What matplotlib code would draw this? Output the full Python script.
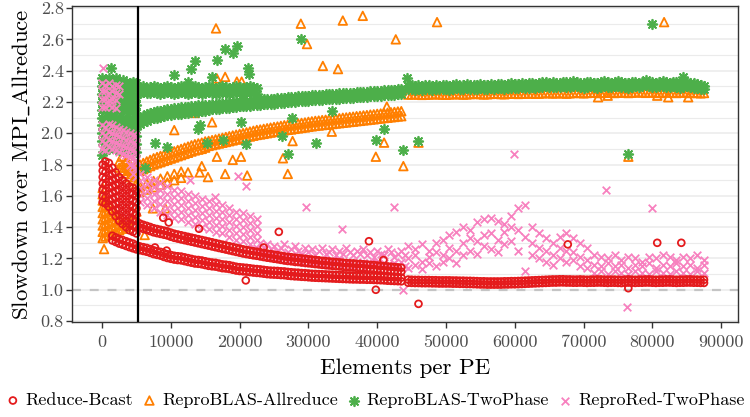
import matplotlib
matplotlib.use("Agg")
import matplotlib.pyplot as plt

plt.rcParams['font.family'] = ['cmr10', 'DejaVu Serif']
plt.rcParams['mathtext.fontset'] = 'cm'
plt.rcParams['axes.formatter.use_mathtext'] = True

# ---------------- data ----------------
series_names = ["Reduce-Bcast", "ReproBLAS-Allreduce", "ReproBLAS-TwoPhase", "ReproRed-TwoPhase"]
series_colors = ["#E41A1C", "#FF7F00", "#4DAF4A", "#F781BF"]

x_ticks = [0, 10000, 20000, 30000, 40000, 50000, 60000, 70000, 80000, 90000]
y_ticks = [0.8, 1.0, 1.2, 1.4, 1.6, 1.8, 2.0, 2.2, 2.4, 2.6, 2.8]
threshold_x = 5280
reference_y = 1.0

# x samples of the dense bands
x_mid = [5500, 6000, 6500, 7000, 7500, 8000, 8500, 9000, 9500, 10000,
         10500, 11000, 11500, 12000, 12500, 13000, 13500, 14000, 14500, 15000,
         15500, 16000, 16500, 17000, 17500, 18000, 18500, 19000, 19500, 20000,
         20500, 21000, 21500, 22000, 22500, 23000, 23500, 24000, 24500, 25000,
         25500, 26000, 26500, 27000, 27500, 28000, 28500, 29000, 29500, 30000,
         30500, 31000, 31500, 32000, 32500, 33000, 33500, 34000, 34500, 35000,
         35500, 36000, 36500, 37000, 37500, 38000, 38500, 39000, 39500, 40000,
         40500, 41000, 41500, 42000, 42500, 43000, 43500]
x_right = [44500, 45000, 45500, 46000, 46500, 47000, 47500, 48000, 48500, 49000,
           49500, 50000, 50500, 51000, 51500, 52000, 52500, 53000, 53500, 54000,
           54500, 55000, 55500, 56000, 56500, 57000, 57500, 58000, 58500, 59000,
           59500, 60000, 60500, 61000, 61500, 62000, 62500, 63000, 63500, 64000,
           64500, 65000, 65500, 66000, 66500, 67000, 67500, 68000, 68500, 69000,
           69500, 70000, 70500, 71000, 71500, 72000, 72500, 73000, 73500, 74000,
           74500, 75000, 75500, 76000, 76500, 77000, 77500, 78000, 78500, 79000,
           79500, 80000, 80500, 81000, 81500, 82000, 82500, 83000, 83500, 84000,
           84500, 85000, 85500, 86000, 86500, 87000, 87500]
x_right_coarse = [44500, 45500, 46500, 47500, 48500, 49500, 50500, 51500, 52500, 53500, 54500,
                  55500, 56500, 57500, 58500, 59500, 60500, 61500, 62500, 63500, 64500, 65500,
                  66500, 67500, 68500, 69500, 70500, 71500, 72500, 73500, 74500, 75500, 76500,
                  77500, 78500, 79500, 80500, 81500, 82500, 83500, 84500, 85500, 86500, 87500]
x_upper = [5500, 6000, 6500, 7000, 7500, 8000, 8500, 9000, 9500, 10000, 10500, 11000, 11500,
           12000, 12500, 13000, 13500, 14000, 14500, 15000, 15500, 16000, 16500, 17000, 17500,
           18000, 18500, 19000, 19500, 20000, 20500, 21000, 21500, 22000, 22500]
x_pink_band = [5500, 6500, 7500, 8500, 9500, 10500, 11500, 12500, 13500, 14500, 15500, 16500,
               17500, 18500, 19500, 20500, 21500, 22500]
x_short = [5500, 6500, 7500, 8500, 9500, 10500, 11500]
x_small = [0, 500, 1000, 1500, 2000, 2500, 3000, 3500, 4000, 4500, 5000]

# ---- Reduce-Bcast ----
red_pre_x = [1500, 2000, 2500, 3000, 3500, 4000, 4500, 5000]
red_pre_top = [1.345, 1.335, 1.325, 1.318, 1.31, 1.302, 1.295, 1.285]
red_pre_bot = [1.315, 1.305, 1.295, 1.288, 1.28, 1.272, 1.265, 1.258]
red_low_top = [1.277, 1.272, 1.267, 1.26, 1.252, 1.247, 1.242, 1.234, 1.227, 1.222,
               1.217, 1.214, 1.212, 1.207, 1.202, 1.197, 1.192, 1.19, 1.187, 1.182,
               1.177, 1.174, 1.172, 1.167, 1.162, 1.16, 1.157, 1.152, 1.147, 1.144,
               1.142, 1.14, 1.137, 1.134, 1.132, 1.13, 1.127, 1.124, 1.122, 1.121,
               1.12, 1.118, 1.117, 1.114, 1.112, 1.11, 1.109, 1.107, 1.106, 1.104,
               1.102, 1.101, 1.1, 1.099, 1.098, 1.097, 1.096, 1.095, 1.094, 1.093,
               1.092, 1.091, 1.09, 1.09, 1.089, 1.089, 1.088, 1.088, 1.087, 1.086,
               1.085, 1.084, 1.082, 1.081, 1.08, 1.079, 1.078]
red_low_bot = [1.253, 1.248, 1.243, 1.236, 1.228, 1.223, 1.218, 1.21, 1.203, 1.198,
               1.193, 1.19, 1.188, 1.183, 1.178, 1.173, 1.168, 1.166, 1.163, 1.158,
               1.153, 1.15, 1.148, 1.143, 1.138, 1.136, 1.133, 1.128, 1.123, 1.12,
               1.118, 1.116, 1.113, 1.11, 1.108, 1.106, 1.103, 1.1, 1.098, 1.097,
               1.096, 1.094, 1.093, 1.09, 1.088, 1.086, 1.085, 1.083, 1.082, 1.08,
               1.078, 1.077, 1.076, 1.075, 1.074, 1.073, 1.072, 1.071, 1.07, 1.069,
               1.068, 1.067, 1.066, 1.066, 1.065, 1.065, 1.064, 1.064, 1.063, 1.062,
               1.061, 1.06, 1.058, 1.057, 1.056, 1.055, 1.054]
red_up_top = [1.423, 1.415, 1.408, 1.401, 1.393, 1.388, 1.383, 1.378, 1.373, 1.365,
              1.358, 1.353, 1.348, 1.343, 1.338, 1.333, 1.328, 1.323, 1.318, 1.313,
              1.308, 1.303, 1.298, 1.293, 1.288, 1.283, 1.278, 1.273, 1.268, 1.263,
              1.258, 1.254, 1.25, 1.246, 1.243, 1.239, 1.235, 1.231, 1.228, 1.224,
              1.221, 1.217, 1.213, 1.21, 1.208, 1.205, 1.203, 1.2, 1.198, 1.195,
              1.193, 1.19, 1.188, 1.185, 1.183, 1.181, 1.179, 1.177, 1.175, 1.173,
              1.171, 1.169, 1.168, 1.166, 1.165, 1.163, 1.161, 1.159, 1.158, 1.155,
              1.153, 1.151, 1.149, 1.147, 1.145, 1.143, 1.141]
red_up_bot = [1.397, 1.389, 1.382, 1.375, 1.367, 1.362, 1.357, 1.352, 1.347, 1.339,
              1.332, 1.327, 1.322, 1.317, 1.312, 1.307, 1.302, 1.297, 1.292, 1.287,
              1.282, 1.277, 1.272, 1.267, 1.262, 1.257, 1.252, 1.247, 1.242, 1.237,
              1.232, 1.228, 1.224, 1.22, 1.217, 1.213, 1.209, 1.205, 1.202, 1.198,
              1.195, 1.191, 1.187, 1.184, 1.182, 1.179, 1.177, 1.174, 1.172, 1.169,
              1.167, 1.164, 1.162, 1.159, 1.157, 1.155, 1.153, 1.151, 1.149, 1.147,
              1.145, 1.143, 1.142, 1.14, 1.139, 1.137, 1.135, 1.133, 1.132, 1.129,
              1.127, 1.125, 1.123, 1.121, 1.119, 1.117, 1.115]
red_right_top = [1.065, 1.064, 1.063, 1.063, 1.062, 1.062, 1.062, 1.061, 1.061, 1.06,
                 1.06, 1.06, 1.06, 1.059, 1.059, 1.058, 1.058, 1.057, 1.057, 1.056,
                 1.055, 1.054, 1.054, 1.053, 1.053, 1.053, 1.053, 1.053, 1.054, 1.054,
                 1.055, 1.055, 1.056, 1.057, 1.058, 1.059, 1.06, 1.061, 1.062, 1.063,
                 1.064, 1.065, 1.066, 1.066, 1.067, 1.067, 1.066, 1.066, 1.065, 1.065,
                 1.066, 1.065, 1.064, 1.065, 1.065, 1.066, 1.066, 1.065, 1.064, 1.065,
                 1.065, 1.064, 1.063, 1.065, 1.066, 1.065, 1.064, 1.065, 1.065, 1.066,
                 1.066, 1.065, 1.064, 1.065, 1.065, 1.066, 1.066, 1.065, 1.064, 1.065,
                 1.065, 1.066, 1.066, 1.065, 1.065, 1.064, 1.064]
red_right_bot = [1.045, 1.044, 1.043, 1.043, 1.042, 1.042, 1.042, 1.041, 1.041, 1.04,
                 1.04, 1.04, 1.04, 1.039, 1.039, 1.038, 1.038, 1.037, 1.037, 1.036,
                 1.035, 1.034, 1.034, 1.033, 1.033, 1.033, 1.033, 1.033, 1.034, 1.034,
                 1.035, 1.035, 1.036, 1.037, 1.038, 1.039, 1.04, 1.041, 1.042, 1.043,
                 1.044, 1.045, 1.046, 1.046, 1.047, 1.047, 1.046, 1.046, 1.045, 1.045,
                 1.046, 1.045, 1.044, 1.045, 1.045, 1.046, 1.046, 1.045, 1.044, 1.045,
                 1.045, 1.044, 1.043, 1.045, 1.046, 1.045, 1.044, 1.045, 1.045, 1.046,
                 1.046, 1.045, 1.044, 1.045, 1.045, 1.046, 1.046, 1.045, 1.044, 1.045,
                 1.045, 1.046, 1.046, 1.045, 1.045, 1.044, 1.044]
red_blob_x = [100] * 7 + [500] * 8 + [1000] * 8 + [1500] * 8 + [2000] * 8 + [2500] * 8 \
    + [3000] * 8 + [3500] * 8 + [4000] * 8 + [4500] * 8 + [5000] * 8
red_blob_y = [1.56, 1.60, 1.64, 1.68, 1.72, 1.76, 1.80,
              1.55, 1.59, 1.63, 1.67, 1.71, 1.75, 1.79, 1.82,
              1.53, 1.57, 1.61, 1.65, 1.69, 1.73, 1.77, 1.81,
              1.50, 1.54, 1.58, 1.62, 1.66, 1.70, 1.74, 1.78,
              1.47, 1.51, 1.55, 1.59, 1.63, 1.67, 1.71, 1.75,
              1.44, 1.48, 1.52, 1.56, 1.60, 1.64, 1.68, 1.72,
              1.42, 1.46, 1.50, 1.54, 1.58, 1.62, 1.66, 1.70,
              1.40, 1.44, 1.48, 1.52, 1.56, 1.60, 1.64, 1.68,
              1.38, 1.42, 1.46, 1.50, 1.54, 1.58, 1.62, 1.66,
              1.37, 1.41, 1.45, 1.49, 1.53, 1.57, 1.61, 1.65,
              1.36, 1.40, 1.44, 1.48, 1.52, 1.56, 1.60, 1.63]
red_out_x = [9700, 8900, 14100, 25700, 23500, 38800, 20900, 39800, 9400, 7700, 40900, 46000,
             67700, 80700, 84200, 76500, 12500]
red_out_y = [1.43, 1.46, 1.39, 1.37, 1.27, 1.31, 1.06, 1.00, 1.25, 1.27, 1.19, 0.91,
             1.29, 1.30, 1.30, 1.01, 1.33]

# ---- ReproBLAS-Allreduce ----
or_main_top = [1.80, 1.81, 1.82, 1.83, 1.84, 1.848, 1.855, 1.863, 1.87, 1.878,
               1.885, 1.893, 1.90, 1.908, 1.915, 1.923, 1.93, 1.935, 1.94, 1.948,
               1.951, 1.956, 1.961, 1.966, 1.971, 1.976, 1.981, 1.986, 1.991, 1.996,
               2.001, 2.006, 2.011, 2.016, 2.021, 2.024, 2.028, 2.032, 2.036, 2.04,
               2.043, 2.047, 2.051, 2.054, 2.056, 2.06, 2.063, 2.066, 2.069, 2.073,
               2.076, 2.079, 2.081, 2.084, 2.086, 2.089, 2.091, 2.094, 2.096, 2.099,
               2.101, 2.104, 2.106, 2.109, 2.111, 2.114, 2.116, 2.119, 2.121, 2.124,
               2.126, 2.129, 2.131, 2.134, 2.136, 2.139, 2.141]
or_main_bot = [1.76, 1.77, 1.78, 1.79, 1.80, 1.808, 1.815, 1.823, 1.83, 1.838,
               1.845, 1.853, 1.86, 1.868, 1.875, 1.883, 1.89, 1.895, 1.90, 1.908,
               1.919, 1.924, 1.929, 1.934, 1.939, 1.944, 1.949, 1.954, 1.959, 1.964,
               1.969, 1.974, 1.979, 1.984, 1.989, 1.992, 1.996, 2.0, 2.004, 2.008,
               2.011, 2.015, 2.019, 2.022, 2.024, 2.028, 2.031, 2.034, 2.037, 2.041,
               2.044, 2.047, 2.049, 2.052, 2.054, 2.057, 2.059, 2.062, 2.064, 2.067,
               2.069, 2.072, 2.074, 2.077, 2.079, 2.082, 2.084, 2.087, 2.089, 2.092,
               2.094, 2.097, 2.099, 2.102, 2.104, 2.107, 2.109]
or_short_top = [1.665, 1.68, 1.695, 1.71, 1.725, 1.74, 1.755]
or_short_bot = [1.625, 1.64, 1.655, 1.67, 1.685, 1.70, 1.715]
or_right = [2.247, 2.248, 2.249, 2.247, 2.245, 2.246, 2.247, 2.249, 2.25, 2.248,
            2.247, 2.246, 2.248, 2.249, 2.251, 2.249, 2.247, 2.248, 2.25, 2.252,
            2.251, 2.25, 2.248, 2.249, 2.251, 2.253, 2.252, 2.25, 2.249, 2.252,
            2.254, 2.253, 2.251, 2.252, 2.253, 2.255, 2.254, 2.252, 2.253, 2.255,
            2.257, 2.256, 2.254, 2.255, 2.257, 2.255, 2.253, 2.255, 2.257, 2.259,
            2.257, 2.255, 2.257, 2.259, 2.26, 2.258, 2.257, 2.259, 2.261, 2.259,
            2.257, 2.259, 2.262, 2.26, 2.257, 2.259, 2.261, 2.263, 2.26, 2.258,
            2.26, 2.262, 2.26, 2.257, 2.259, 2.262, 2.261, 2.259, 2.257, 2.26,
            2.262, 2.26, 2.257, 2.259, 2.257, 2.255, 2.257]
or_blob_x = [100] * 9 + [500] * 7 + [1000] * 6 + [1500] * 5 + [2000] * 4 + [2500] * 5 \
    + [3000] * 4 + [3500] * 5 + [4000] * 4 + [4500] * 5 + [5000] * 5
or_blob_y = [1.33, 1.37, 1.41, 1.45, 1.49, 1.53, 1.57, 1.61, 1.65,
             1.34, 1.38, 1.42, 1.46, 1.50, 1.54, 1.58,
             1.35, 1.39, 1.43, 1.47, 1.51, 1.55,
             1.36, 1.40, 1.44, 1.48, 1.52,
             1.37, 1.41, 1.45, 1.49,
             1.38, 1.42, 1.46, 1.78, 1.82,
             1.39, 1.43, 1.76, 1.80,
             1.40, 1.44, 1.74, 1.78, 1.82,
             1.42, 1.72, 1.76, 1.80,
             1.45, 1.70, 1.74, 1.78, 1.82,
             1.50, 1.68, 1.72, 1.76, 1.80]
or_out_x = [16570, 28900, 29800, 35000, 37900, 32100, 34300, 16700, 17900, 19600, 20300, 13500, 10500,
            16000, 2900, 16700, 19000, 20200, 12500, 14200, 14500, 15400, 17900, 21100, 27000, 26300,
            27700, 33400, 39800, 41000, 41400, 48700, 42700, 81700, 76500, 43800, 46000, 300, 6200,
            7400, 9200, 72100, 73500, 80700, 85200, 82300]
or_out_y = [2.67, 2.70, 2.57, 2.72, 2.75, 2.43, 2.41, 2.35, 2.36, 2.33, 2.33, 2.13, 2.02,
            2.07, 1.85, 1.85, 1.83, 1.85, 1.75, 1.75, 1.79, 1.72, 1.74, 1.73, 1.74, 1.84,
            1.95, 2.01, 1.85, 1.94, 2.17, 2.71, 2.60, 2.71, 1.85, 1.79, 1.94, 1.26, 1.35,
            1.52, 1.52, 2.23, 2.24, 2.24, 2.23, 2.23]

# ---- ReproBLAS-TwoPhase ----
gr_main_top = [2.10, 2.11, 2.12, 2.128, 2.135, 2.14, 2.145, 2.15, 2.155, 2.158,
               2.16, 2.163, 2.165, 2.168, 2.17, 2.173, 2.175, 2.178, 2.18, 2.183,
               2.181, 2.184, 2.186, 2.189, 2.191, 2.194, 2.196, 2.199, 2.201, 2.204,
               2.206, 2.208, 2.209, 2.211, 2.212, 2.214, 2.216, 2.218, 2.22, 2.222,
               2.224, 2.226, 2.228, 2.23, 2.232, 2.234, 2.236, 2.238, 2.239, 2.241,
               2.242, 2.244, 2.245, 2.247, 2.248, 2.25, 2.251, 2.253, 2.254, 2.256,
               2.257, 2.259, 2.26, 2.262, 2.263, 2.265, 2.266, 2.268, 2.269, 2.271,
               2.272, 2.274, 2.275, 2.277, 2.278, 2.28, 2.281]
gr_main_bot = [2.06, 2.07, 2.08, 2.088, 2.095, 2.10, 2.105, 2.11, 2.115, 2.118,
               2.12, 2.123, 2.125, 2.128, 2.13, 2.133, 2.135, 2.138, 2.14, 2.143,
               2.149, 2.152, 2.154, 2.157, 2.159, 2.162, 2.164, 2.167, 2.169, 2.172,
               2.174, 2.176, 2.177, 2.179, 2.18, 2.182, 2.184, 2.186, 2.188, 2.19,
               2.192, 2.194, 2.196, 2.198, 2.20, 2.202, 2.204, 2.206, 2.207, 2.209,
               2.21, 2.212, 2.213, 2.215, 2.216, 2.218, 2.219, 2.221, 2.222, 2.224,
               2.225, 2.227, 2.228, 2.23, 2.231, 2.233, 2.234, 2.236, 2.237, 2.239,
               2.24, 2.242, 2.243, 2.245, 2.246, 2.248, 2.249]
gr_right_top = [2.305, 2.31, 2.30, 2.307, 2.303, 2.31, 2.306, 2.30, 2.308, 2.304,
                2.31, 2.306, 2.302, 2.308, 2.312, 2.305, 2.309, 2.313, 2.306, 2.31,
                2.308, 2.312, 2.306, 2.31, 2.314, 2.309, 2.312, 2.316, 2.31, 2.313,
                2.318, 2.312, 2.316, 2.32, 2.314, 2.318, 2.322, 2.317, 2.32, 2.325,
                2.33, 2.322, 2.326, 2.32, 2.324, 2.33, 2.325, 2.32, 2.335, 2.328,
                2.322, 2.318, 2.325, 2.33, 2.322, 2.318, 2.326, 2.332, 2.325, 2.32,
                2.328, 2.335, 2.326, 2.32, 2.318, 2.325, 2.33, 2.322, 2.328, 2.34,
                2.33, 2.325, 2.32, 2.328, 2.335, 2.326, 2.32, 2.33, 2.325, 2.318,
                2.325, 2.33, 2.322, 2.318, 2.315, 2.31, 2.305]
gr_right_bot = [2.28, 2.284, 2.278, 2.282, 2.279, 2.285, 2.281, 2.277, 2.283, 2.28,
                2.285, 2.281, 2.278, 2.283, 2.287, 2.28, 2.284, 2.288, 2.282, 2.285,
                2.283, 2.287, 2.281, 2.285, 2.289, 2.284, 2.287, 2.29, 2.285, 2.288,
                2.292, 2.287, 2.29, 2.294, 2.289, 2.292, 2.296, 2.291, 2.294, 2.298,
                2.3, 2.295, 2.298, 2.293, 2.297, 2.301, 2.297, 2.293, 2.303, 2.299,
                2.295, 2.291, 2.297, 2.301, 2.295, 2.291, 2.298, 2.302, 2.297, 2.293,
                2.299, 2.304, 2.298, 2.293, 2.291, 2.297, 2.301, 2.295, 2.299, 2.306,
                2.301, 2.297, 2.293, 2.299, 2.304, 2.298, 2.293, 2.301, 2.297, 2.291,
                2.297, 2.301, 2.295, 2.291, 2.289, 2.285, 2.28]
gr_up_top = [2.295, 2.30, 2.29, 2.298, 2.302, 2.295, 2.29, 2.298, 2.30, 2.294, 2.29, 2.297,
             2.302, 2.295, 2.29, 2.298, 2.30, 2.294, 2.29, 2.297, 2.302, 2.295, 2.29, 2.298,
             2.30, 2.294, 2.29, 2.297, 2.30, 2.295, 2.29, 2.298, 2.30, 2.294, 2.29]
gr_up_bot = [2.258, 2.262, 2.255, 2.26, 2.265, 2.257, 2.253, 2.26, 2.263, 2.256, 2.252, 2.259,
             2.264, 2.257, 2.253, 2.26, 2.263, 2.256, 2.252, 2.259, 2.264, 2.257, 2.253, 2.26,
             2.263, 2.256, 2.252, 2.259, 2.262, 2.257, 2.253, 2.26, 2.262, 2.256, 2.252]
gr_blob_1 = [2.35, 2.34, 2.35, 2.34, 2.35, 2.33, 2.34, 2.33, 2.32, 2.33, 2.32]
gr_blob_2 = [2.30, 2.29, 2.30, 2.31, 2.30, 2.29, 2.30, 2.29, 2.30, 2.29, 2.28]
gr_blob_3 = [2.25, 2.24, 2.25, 2.26, 2.25, 2.24, 2.25, 2.24, 2.25, 2.24, 2.23]
gr_blob_4 = [2.20, 2.19, 2.20, 2.21, 2.20, 2.19, 2.20, 2.19, 2.20, 2.19, 2.18]
gr_blob_5 = [2.15, 2.14, 2.15, 2.16, 2.15, 2.14, 2.15, 2.14, 2.15, 2.14, 2.13]
gr_blob_6 = [2.10, 2.09, 2.10, 2.11, 2.10, 2.09, 2.10, 2.09, 2.10, 2.09, 2.08]
gr_blob_7 = [2.05, 2.04, 2.05, 2.06, 2.05, 2.04, 2.05, 2.04, 2.05, 2.04, 2.03]
gr_blob_8 = [2.00, 1.99, 2.00, 2.01, 2.00, 1.99, 2.00, 1.99, 2.00, 1.99, 1.98]
gr_blob_9 = [1.95, 1.94, 1.95, 1.96, 1.95, 1.94, 1.95, 1.94, 1.95, 1.94, 1.93]
gr_blob_10 = [1.86, 1.89, 1.90, 1.91, 1.90, 1.89, 1.90, 1.89, 1.90, 1.89, 1.88]
gr_out_x = [28900, 17900, 19600, 19000, 16700, 13500, 12900, 10500, 12500, 16000, 21200, 21400, 1300,
            27600, 33400, 41000, 39800, 31100, 27000, 26200, 20900, 17600, 14200, 14000, 20200, 15300,
            9400, 7700, 6200, 80000, 76500, 43800, 46000, 44300, 84500]
gr_out_y = [2.60, 2.54, 2.56, 2.51, 2.47, 2.46, 2.41, 2.37, 2.33, 2.36, 2.42, 2.38, 2.42,
            2.10, 2.14, 2.03, 1.96, 1.94, 1.87, 1.98, 1.93, 1.96, 2.05, 2.03, 2.07, 1.94,
            1.91, 1.94, 1.78, 2.70, 1.87, 1.89, 1.95, 2.35, 2.36]

# ---- ReproRed-TwoPhase ----
pk_band_1 = [1.74, 1.72, 1.70, 1.68, 1.66, 1.64, 1.63, 1.61, 1.60, 1.58, 1.57, 1.55, 1.54, 1.52, 1.50,
             1.49, 1.47, 1.45]
pk_band_2 = [1.695, 1.675, 1.655, 1.635, 1.615, 1.595, 1.585, 1.565, 1.555, 1.535, 1.525, 1.505, 1.495,
             1.475, 1.455, 1.445, 1.425, 1.405]
pk_band_3 = [1.65, 1.63, 1.61, 1.59, 1.57, 1.55, 1.54, 1.52, 1.51, 1.49, 1.48, 1.46, 1.45, 1.43, 1.41,
             1.40, 1.38, 1.36]
pk_band_4 = [1.605, 1.585, 1.565, 1.545, 1.525, 1.505, 1.495, 1.475, 1.465, 1.445, 1.435, 1.415, 1.405,
             1.385, 1.365, 1.355, 1.335, 1.315]
pk_band_5 = [1.56, 1.54, 1.52, 1.50, 1.48, 1.46, 1.45, 1.43, 1.42, 1.40, 1.39, 1.37, 1.36, 1.34, 1.32,
             1.31, 1.29, 1.27]
pk_mid_x = [23000, 23500, 24000, 24500, 25000, 25500, 26000, 26500, 27000, 27500, 28000, 28500, 29000,
            29500, 30000, 30500, 31000, 31500, 32000, 32500, 33000, 33500, 34000, 34500, 35000, 35500,
            36000, 36500, 37000, 37500, 38000, 38500, 39000, 39500, 40000, 40500, 41000, 41500, 42000,
            42500, 43000, 43500, 44000]
pk_mid_a = [1.30, 1.27, 1.29, 1.26, 1.28, 1.25, 1.27, 1.29, 1.24, 1.26, 1.28, 1.25, 1.23, 1.27, 1.24,
            1.26, 1.22, 1.25, 1.27, 1.23, 1.24, 1.26, 1.22, 1.25, 1.23, 1.27, 1.24, 1.22, 1.25, 1.23,
            1.26, 1.22, 1.24, 1.21, 1.25, 1.23, 1.22, 1.26, 1.24, 1.21, 1.23, 1.25, 1.22]
pk_mid_b = [1.24, 1.22, 1.23, 1.21, 1.22, 1.20, 1.22, 1.21, 1.19, 1.21, 1.20, 1.18, 1.20, 1.19, 1.17,
            1.19, 1.18, 1.17, 1.19, 1.18, 1.16, 1.18, 1.17, 1.19, 1.16, 1.18, 1.17, 1.15, 1.18, 1.16,
            1.17, 1.15, 1.17, 1.16, 1.18, 1.15, 1.17, 1.16, 1.15, 1.17, 1.16, 1.18, 1.15]
pk_right_a = [1.28, 1.26, 1.29, 1.25, 1.30, 1.32, 1.35, 1.37, 1.40, 1.38, 1.43, 1.45, 1.46, 1.44, 1.42,
              1.47, 1.52, 1.54, 1.40, 1.36, 1.33, 1.30, 1.34, 1.36, 1.33, 1.30, 1.27, 1.22, 1.21, 1.20,
              1.22, 1.19, 1.21, 1.20, 1.18, 1.21, 1.20, 1.22, 1.21, 1.19, 1.21, 1.20, 1.22, 1.19]
pk_right_b = [1.20, 1.22, 1.18, 1.21, 1.24, 1.22, 1.27, 1.25, 1.30, 1.33, 1.31, 1.35, 1.36, 1.32, 1.37,
              1.40, 1.38, 1.34, 1.30, 1.27, 1.25, 1.22, 1.27, 1.25, 1.24, 1.21, 1.19, 1.16, 1.15, 1.17,
              1.15, 1.16, 1.14, 1.16, 1.15, 1.17, 1.14, 1.16, 1.15, 1.17, 1.15, 1.16, 1.14, 1.16]
pk_right_c = [1.14, 1.16, 1.13, 1.17, 1.15, 1.18, 1.20, 1.17, 1.22, 1.25, 1.23, 1.28, 1.26, 1.24, 1.29,
              1.31, 1.25, 1.12, 1.22, 1.20, 1.18, 1.16, 1.20, 1.18, 1.19, 1.15, 1.14, 1.11, 1.12, 1.10,
              1.12, 1.11, 1.10, 1.12, 1.11, 1.10, 1.12, 1.11, 1.10, 1.12, 1.11, 1.10, 1.12, 1.11]
pk_blob_x = [0, 500, 1000, 1500, 2000, 2500, 0, 500, 1000, 1500, 2000, 2500, 0, 500, 1000, 1500, 2000,
             0, 500, 1000, 1500, 2000,
             0, 500, 1000, 1500, 2000, 2500, 3000, 3500, 4000, 4500, 5000,
             0, 500, 1000, 1500, 2000, 2500, 3000, 3500, 4000, 4500, 5000,
             0, 500, 1000, 1500, 2000, 2500, 3000, 3500, 4000, 4500, 5000,
             0, 500, 1000, 1500, 2000, 2500, 3000, 3500, 4000, 4500, 5000,
             4000, 4500, 5000, 4500, 5000]
pk_blob_y = [2.32, 2.31, 2.32, 2.30, 2.31, 2.30, 2.27, 2.27, 2.26, 2.27, 2.26, 2.25, 2.22, 2.22, 2.21,
             2.22, 2.21, 2.17, 2.17, 2.18, 2.17, 2.16,
             2.05, 2.04, 2.06, 2.05, 2.04, 2.03, 2.02, 2.01, 2.0, 1.99, 1.98,
             2.00, 1.99, 2.01, 2.00, 1.99, 1.98, 1.97, 1.96, 1.95, 1.94, 1.93,
             1.95, 1.94, 1.96, 1.95, 1.94, 1.93, 1.92, 1.91, 1.90, 1.89, 1.88,
             1.90, 1.89, 1.91, 1.90, 1.89, 1.88, 1.87, 1.86, 1.85, 1.84, 1.83,
             1.80, 1.79, 1.78, 1.74, 1.72]
pk_out_x = [12800, 19800, 20900, 16400, 29700, 34900, 42400, 59900, 73300, 80000, 76300, 43750, 100]
pk_out_y = [1.70, 1.73, 1.66, 1.59, 1.53, 1.39, 1.53, 1.87, 1.64, 1.52, 0.89, 1.00, 2.42]

# ---------------- drawing ----------------
fig = plt.figure(figsize=(7.5, 4.17), dpi=100)
ax = fig.add_axes([0.096, 0.2278, 0.888, 0.7578])

col_red, col_or, col_gr, col_pk = series_colors
lw = 1.3
kw_red = dict(marker='o', s=24, facecolors='none', edgecolors=col_red, linewidths=lw)
kw_or = dict(marker='^', s=38, facecolors='none', edgecolors=col_or, linewidths=lw)
kw_gr = dict(marker=(8, 2, 0), s=46, color=col_gr, linewidths=lw)
kw_pk = dict(marker='x', s=30, color=col_pk, linewidths=lw)


def sc(xs, ys, kw):
    return ax.scatter(xs, ys, zorder=3, **kw)


# orange
sc(or_blob_x, or_blob_y, kw_or)
for row in (or_main_top, or_main_bot):
    sc(x_mid, row, kw_or)
for row in (or_short_top, or_short_bot):
    sc(x_short, row, kw_or)
sc(x_right, or_right, kw_or)
h_or = sc(or_out_x, or_out_y, kw_or)

# green
for row in (gr_blob_1, gr_blob_2, gr_blob_3, gr_blob_4, gr_blob_5, gr_blob_6, gr_blob_7,
            gr_blob_8, gr_blob_9, gr_blob_10):
    sc(x_small, row, kw_gr)
for row in (gr_up_top, gr_up_bot):
    sc(x_upper, row, kw_gr)
for row in (gr_main_top, gr_main_bot):
    sc(x_mid, row, kw_gr)
for row in (gr_right_top, gr_right_bot):
    sc(x_right, row, kw_gr)
h_gr = sc(gr_out_x, gr_out_y, kw_gr)

# pink
sc(pk_blob_x, pk_blob_y, kw_pk)
for row in (pk_band_1, pk_band_2, pk_band_3, pk_band_4, pk_band_5):
    sc(x_pink_band, row, kw_pk)
for row in (pk_mid_a, pk_mid_b):
    sc(pk_mid_x, row, kw_pk)
for row in (pk_right_a, pk_right_b, pk_right_c):
    sc(x_right_coarse, row, kw_pk)
h_pk = sc(pk_out_x, pk_out_y, kw_pk)

# red
sc(red_blob_x, red_blob_y, kw_red)
for row in (red_pre_top, red_pre_bot):
    sc(red_pre_x, row, kw_red)
for row in (red_low_top, red_low_bot, red_up_top, red_up_bot):
    sc(x_mid, row, kw_red)
for row in (red_right_top, red_right_bot):
    sc(x_right, row, kw_red)
h_red = sc(red_out_x, red_out_y, kw_red)

ax.axhline(reference_y, color='#C4C4C4', lw=1.6, ls=(0, (4, 4)), zorder=2)
ax.axvline(threshold_x, color='black', lw=1.6, zorder=4)

ax.set_xlim(-4360, 92440)
ax.set_ylim(0.794, 2.813)
ax.set_xticks(x_ticks)
ax.set_xticklabels([str(v) for v in x_ticks])
ax.set_yticks(y_ticks)
ax.set_yticklabels(['%.1f' % v for v in y_ticks])
ax.set_yticks([0.9, 1.1, 1.3, 1.5, 1.7, 1.9, 2.1, 2.3, 2.5, 2.7], minor=True)
ax.yaxis.grid(True, which='major', color='#EBEBEB', lw=1.1, zorder=0)
ax.yaxis.grid(True, which='minor', color='#EBEBEB', lw=0.8, zorder=0)
ax.set_axisbelow(True)
for sp in ax.spines.values():
    sp.set_color('#333333')
    sp.set_linewidth(1.0)
ax.tick_params(axis='both', which='major', length=4, width=1.0, color='#333333',
               labelcolor='#4D4D4D', labelsize=13)
ax.tick_params(axis='x', which='major', pad=5)
ax.tick_params(axis='y', which='major', pad=2)
ax.tick_params(axis='y', which='minor', length=0)

ax.set_xlabel('Elements per PE', fontsize=16.5, labelpad=6)
ax.set_ylabel(r'Slowdown over MPI$\_$Allreduce', fontsize=16.5, labelpad=6)

fig.legend([h_red, h_or, h_gr, h_pk], series_names, loc='lower center',
           bbox_to_anchor=(0.5, -0.005), ncol=4, frameon=False, fontsize=13,
           handletextpad=0.3, columnspacing=0.5, handlelength=0.8, borderaxespad=0.2)

fig.savefig('out.png', dpi=100)
